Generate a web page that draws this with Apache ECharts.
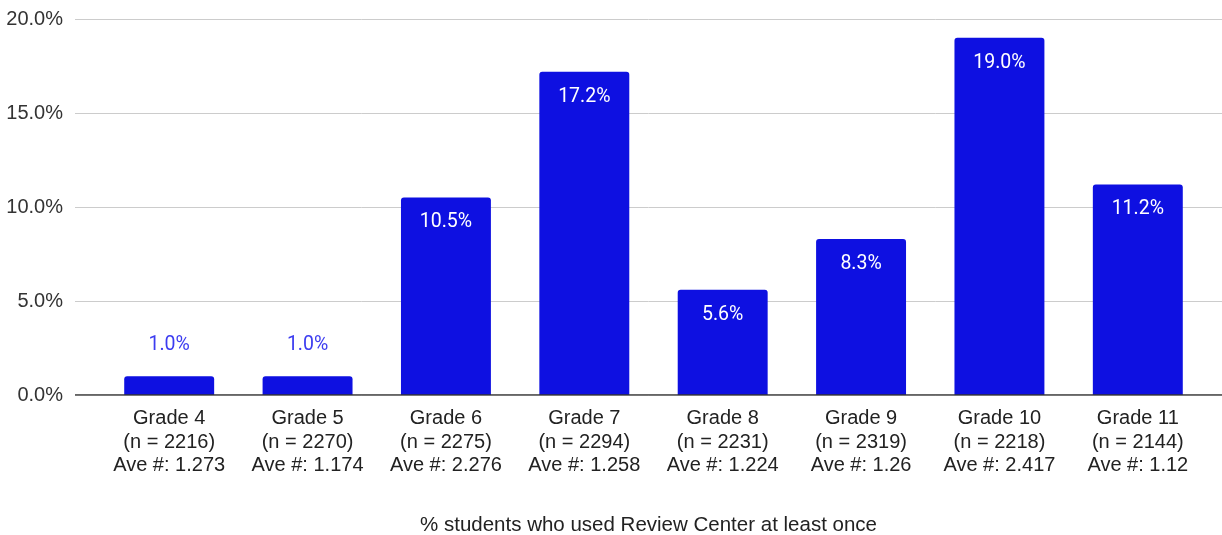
<!DOCTYPE html>
<html>
<head>
<meta charset="utf-8">
<script src="https://cdn.jsdelivr.net/npm/echarts@6/dist/echarts.min.js"></script>
<style>
  html, body { margin: 0; padding: 0; background: #fff; }
  #chart { width: 1222px; height: 535px; }
</style>
</head>
<body>
<div id="chart"></div>
<script>
// Share of students per grade who opened the Review Center at least once
const grades = ['Grade 4', 'Grade 5', 'Grade 6', 'Grade 7', 'Grade 8', 'Grade 9', 'Grade 10', 'Grade 11'];
const sampleSizes = [2216, 2270, 2275, 2294, 2231, 2319, 2218, 2144];
const averageUses = ['1.273', '1.174', '2.276', '1.258', '1.224', '1.26', '2.417', '1.12'];
const usedPercent = [1.0, 1.0, 10.5, 17.2, 5.6, 8.3, 19.0, 11.2];
const yTicks = [0, 5, 10, 15, 20];

const BAR_BLUE = '#0e10e1';
const TEXT_FONT = 'Liberation Sans, Arial, sans-serif';
const categoryLabels = grades.map((g, i) => g + '\n(n = ' + sampleSizes[i] + ')\nAve #: ' + averageUses[i]);

// small bars carry their label above, tall bars inside near the top
const barData = usedPercent.map(v => {
  const small = v < 3;
  return {
    value: v,
    label: small
      ? { position: 'top', distance: 21, color: '#3c3cf0' }
      : { position: 'insideTop', distance: 15, color: '#ffffff' }
  };
});

const chart = echarts.init(document.getElementById('chart'), null, { renderer: 'canvas' });
chart.setOption({
  animation: false,
  backgroundColor: '#ffffff',
  grid: [
    { left: 75, right: 0, top: 19, bottom: 140, containLabel: false, outerBoundsMode: 'none' },
    { left: 100, right: 15, top: 19, bottom: 140, containLabel: false, outerBoundsMode: 'none' }
  ],
  xAxis: [
    {
      gridIndex: 0, type: 'value', min: 0, max: 1,
      axisLine: { show: false }, axisTick: { show: false },
      axisLabel: { show: false }, splitLine: { show: false },
      name: '% students who used Review Center at least once',
      nameLocation: 'middle', nameGap: 120,
      nameTextStyle: { fontFamily: TEXT_FONT, fontSize: 20.5, color: '#222' }
    },
    {
      gridIndex: 1, type: 'category', data: categoryLabels,
      axisLine: { show: false }, axisTick: { show: false },
      axisLabel: {
        interval: 0, margin: 12,
        fontFamily: TEXT_FONT, fontSize: 20,
        lineHeight: 23.5, color: '#222'
      }
    }
  ],
  yAxis: [
    {
      gridIndex: 0, type: 'value', min: yTicks[0], max: yTicks[yTicks.length - 1], interval: 5,
      axisLine: { show: false }, axisTick: { show: false },
      axisLabel: {
        margin: 12,
        fontFamily: TEXT_FONT, fontSize: 20, color: '#333',
        formatter: v => v.toFixed(1) + '%'
      },
      splitLine: { show: true, lineStyle: { color: '#cccccc', width: 1 } }
    },
    {
      gridIndex: 1, type: 'value', min: yTicks[0], max: yTicks[yTicks.length - 1], interval: 5,
      axisLine: { show: false }, axisTick: { show: false },
      axisLabel: { show: false }, splitLine: { show: false }
    }
  ],
  series: [
    {
      // baseline along the zero gridline
      type: 'line', xAxisIndex: 0, yAxisIndex: 0,
      data: [[0, 0], [1, 0]], symbol: 'none', silent: true,
      lineStyle: { color: '#333333', width: 1.5 }, z: 3
    },
    {
      type: 'bar', xAxisIndex: 1, yAxisIndex: 1,
      data: barData, barWidth: '65%',
      itemStyle: { color: BAR_BLUE, borderRadius: [3, 3, 0, 0] },
      label: {
        show: true,
        fontFamily: 'Roboto, sans-serif', fontSize: 19.5,
        formatter: p => p.value.toFixed(1) + '%'
      },
      z: 2
    }
  ]
});
</script>
</body>
</html>
